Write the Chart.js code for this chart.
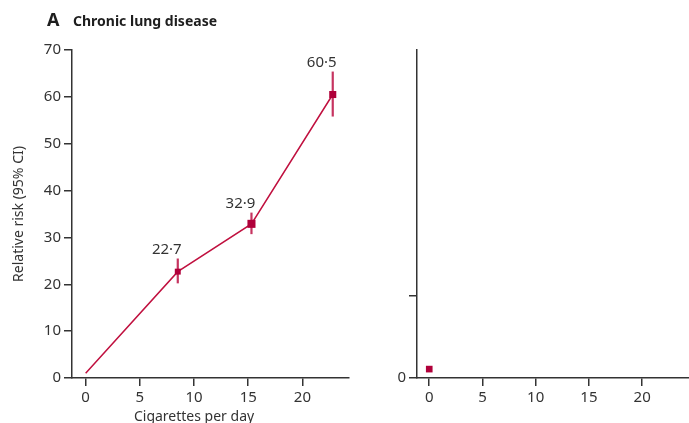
<!DOCTYPE html>
<html>
<head>
<meta charset="utf-8">
<script src="https://cdn.jsdelivr.net/npm/chart.js@4/dist/chart.umd.min.js"></script>
<style>
  html, body { margin: 0; padding: 0; background: #fff; overflow: hidden; }
  #wrap { position: relative; width: 689px; height: 423px; overflow: hidden; }
  #wrap canvas { position: absolute; top: 0; }
  #main { left: 0; }
  #ref { left: 345px; }
</style>
</head>
<body>
<div id="wrap">
  <canvas id="main" width="360" height="423"></canvas>
  <canvas id="ref" width="354" height="423"></canvas>
</div>
<script>
// Relative risk of chronic lung disease by cigarettes smoked per day
const cigarettes   = [0, 8.5, 15.3, 22.8];
const relativeRisk = [1, 22.7, 32.9, 60.5];
const ciLower      = [1, 20.2, 30.7, 55.8];
const ciUpper      = [1, 25.5, 35.3, 65.4];
const riskTicks    = [0, 10, 20, 30, 40, 50, 60, 70];
const cigTicks     = [0, 5, 10, 15, 20];

// Second panel: reference group only
const refCigarettes = [0];
const refRisk       = [1.9];
const refRiskTicks  = [0, 17.5];

const FONT = "'Noto Sans', 'DejaVu Sans', sans-serif";
const INK = '#333333';
const RED_LINE = '#c0103f';
const RED_MARK = '#b0003a';
const RED_BAR = '#c63460';

Chart.defaults.font.family = FONT;
Chart.defaults.color = INK;
Chart.defaults.animation = false;

const fmt = v => v.toFixed(1).replace('.', '\u00B7');
const asTicks = arr => arr.map(v => ({ value: v }));

function axisCommon(extra) {
  return Object.assign({
    type: 'linear',
    border: { display: true, color: INK, width: 1.5 },
    grid: { display: true, drawOnChartArea: false, drawTicks: true, tickLength: 8, color: INK, lineWidth: 1.5 },
    ticks: { color: INK, font: { size: 15 }, padding: 3 }
  }, extra);
}

// Error bars behind the markers
const errorBars = {
  id: 'errorBars',
  beforeDatasetsDraw(chart) {
    const { ctx, scales: { x, y } } = chart;
    ctx.save();
    ctx.strokeStyle = RED_BAR;
    ctx.lineWidth = 2.2;
    cigarettes.forEach((c, i) => {
      if (ciUpper[i] <= ciLower[i]) return;
      const px = x.getPixelForValue(c);
      ctx.beginPath();
      ctx.moveTo(px, y.getPixelForValue(ciLower[i]));
      ctx.lineTo(px, y.getPixelForValue(ciUpper[i]));
      ctx.stroke();
    });
    ctx.restore();
  }
};

// Value labels above each interval, plus panel heading and x-axis title
const annotations = {
  id: 'annotations',
  afterDraw(chart) {
    const { ctx, scales: { x, y } } = chart;
    ctx.save();
    ctx.fillStyle = INK;
    ctx.textBaseline = 'alphabetic';
    ctx.textAlign = 'center';
    ctx.font = `15px ${FONT}`;
    cigarettes.forEach((c, i) => {
      if (ciUpper[i] <= ciLower[i]) return;
      ctx.fillText(fmt(relativeRisk[i]), x.getPixelForValue(c) - 11, y.getPixelForValue(ciUpper[i]) - 5);
    });

    ctx.font = `14px ${FONT}`;
    ctx.fillText('Cigarettes per day', x.getPixelForValue(10), 421);

    ctx.textAlign = 'left';
    ctx.fillStyle = '#1e1e1e';
    ctx.font = `bold 18px ${FONT}`;
    ctx.fillText('A', 47, 26);
    ctx.font = `bold 14px ${FONT}`;
    ctx.fillText('Chronic lung disease', 73, 26);
    ctx.restore();
  }
};

new Chart(document.getElementById('main'), {
  type: 'scatter',
  data: {
    datasets: [{
      data: cigarettes.map((c, i) => ({ x: c, y: relativeRisk[i] })),
      showLine: true,
      borderColor: RED_LINE,
      borderWidth: 1.5,
      pointStyle: 'rect',
      pointRadius: [0, 4.2, 5.7, 5],
      pointBackgroundColor: RED_MARK,
      pointBorderWidth: 0,
      clip: false
    }]
  },
  options: {
    responsive: false,
    devicePixelRatio: 1,
    layout: { padding: { left: 2, right: 11, top: 50, bottom: 0 } },
    plugins: { legend: { display: false }, tooltip: { enabled: false } },
    scales: {
      x: axisCommon({
        min: -1.26, max: 24.3,
        afterBuildTicks: s => { s.ticks = asTicks(cigTicks); },
        afterFit: s => { s.height = 45; }
      }),
      y: axisCommon({
        min: 0, max: 70,
        afterBuildTicks: s => { s.ticks = asTicks(riskTicks); },
        afterFit: s => { s.width = 70; },
        title: { display: true, text: 'Relative risk (95% CI)', color: INK, font: { size: 14 }, padding: { top: 9, bottom: 0 } }
      })
    }
  },
  plugins: [errorBars, annotations]
});

new Chart(document.getElementById('ref'), {
  type: 'scatter',
  data: {
    datasets: [{
      data: refCigarettes.map((c, i) => ({ x: c, y: refRisk[i] })),
      pointStyle: 'rect',
      pointRadius: 4.7,
      pointBackgroundColor: RED_MARK,
      pointBorderWidth: 0,
      clip: false
    }]
  },
  options: {
    responsive: false,
    devicePixelRatio: 1,
    layout: { padding: { left: 2, right: 0, top: 50, bottom: 0 } },
    plugins: { legend: { display: false }, tooltip: { enabled: false } },
    scales: {
      x: axisCommon({
        min: -1.15, max: 24.9,
        afterBuildTicks: s => { s.ticks = asTicks(cigTicks); },
        afterFit: s => { s.height = 45; }
      }),
      y: axisCommon({
        min: 0, max: 70,
        afterBuildTicks: s => { s.ticks = asTicks(refRiskTicks); },
        afterFit: s => { s.width = 70; },
        ticks: { color: INK, font: { size: 15 }, padding: 3, callback: v => (v === 0 ? '0' : '') }
      })
    }
  }
});
</script>
</body>
</html>
